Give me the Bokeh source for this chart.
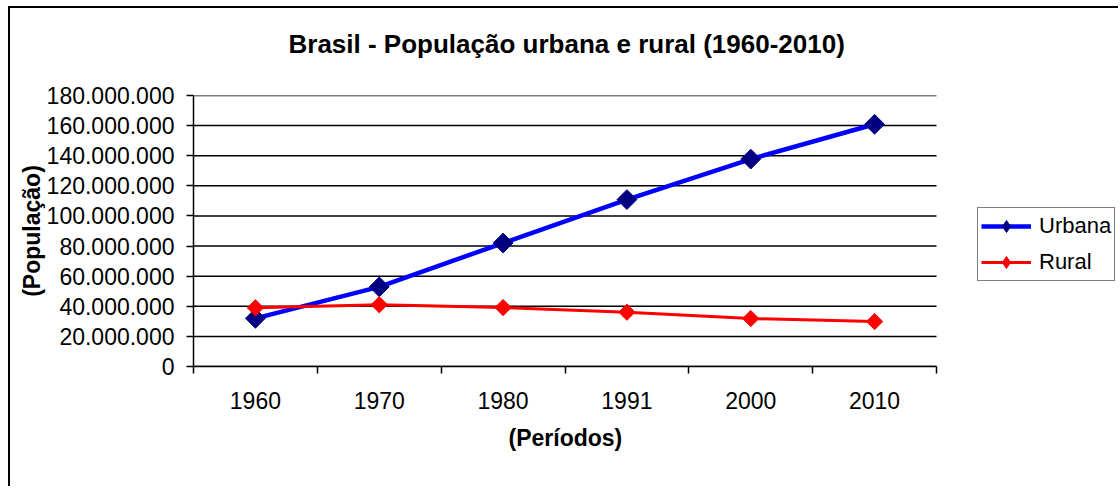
import numpy as np
from bokeh.plotting import figure
from bokeh.models import (Range1d, FixedTicker, CustomJSTickFormatter, Legend,
                          LegendItem, Title)
from bokeh.embed import file_html
from bokeh.resources import INLINE

# ---- data ----
periods = ["1960", "1970", "1980", "1991", "2000", "2010"]
urbana = [32004817, 52904744, 82013375, 110875826, 137755550, 160879708]
rural = [38987526, 41054053, 39137198, 36041633, 31835143, 29852986]
y_ticks = [0, 20000000, 40000000, 60000000, 80000000, 100000000,
           120000000, 140000000, 160000000, 180000000]
y_tick_labels = ["0", "20.000.000", "40.000.000", "60.000.000", "80.000.000",
                 "100.000.000", "120.000.000", "140.000.000", "160.000.000",
                 "180.000.000"]

FONT = "Liberation Sans"

n = len(periods)
x_pos = [i + 0.5 for i in range(n)]

# layout (pixels)
FIG_W, FIG_H = 1110, 480
LEFT, TOP = 183, 87
PLOT_W, PLOT_H = 743, 271          # visible plot area
FRAME_W = FIG_W - LEFT             # frame runs to the right edge (room for legend)
x_end = n * FRAME_W / PLOT_W

p = figure(width=FIG_W, height=FIG_H, output_backend="svg", toolbar_location=None,
           x_range=Range1d(0, x_end), y_range=Range1d(y_ticks[0], y_ticks[-1]),
           min_border_left=LEFT, min_border_top=TOP,
           min_border_bottom=FIG_H - TOP - PLOT_H, min_border_right=0)
p.styles = {"margin-left": "8px", "margin-top": "6px",
            "border-top": "2px solid black", "border-left": "2px solid black"}
p.outline_line_color = None
p.background_fill_color = "white"
p.border_fill_color = "white"

# title (trailing empty line lifts the visible line)
p.title.text = "Brasil - População urbana e rural (1960-2010)\n "
p.title.align = "left"
p.title.offset = 95
p.title.text_font = FONT
p.title.text_font_size = "26px"
p.title.text_font_style = "bold"
p.title.text_color = "black"
p.title.standoff = 13

# x axis
xa = p.xaxis[0]
xa.bounds = (0, n)
xa.ticker = FixedTicker(ticks=x_pos, minor_ticks=list(range(n + 1)))
xa.formatter = CustomJSTickFormatter(args=dict(cat_labels=periods),
                                     code="return cat_labels[Math.floor(tick)];")
xa.major_tick_line_color = None
xa.minor_tick_line_color = "black"
xa.minor_tick_in = 0
xa.minor_tick_out = 7
xa.minor_tick_line_width = 1.5
xa.axis_line_color = "black"
xa.axis_line_width = 1.5
xa.major_label_text_font = FONT
xa.major_label_text_font_size = "23px"
xa.major_label_text_color = "black"
xa.major_label_standoff = 18

# x axis title, centred under the plotted categories
xlab = Title(text="(Períodos)", align="left", offset=315,
             standoff=22, text_font=FONT, text_font_size="23px",
             text_font_style="bold", text_color="black")
p.add_layout(xlab, "below")

# y axis
ya = p.yaxis[0]
ya.ticker = FixedTicker(ticks=y_ticks)
ya.formatter = CustomJSTickFormatter(args=dict(yvals=y_ticks, ylabels=y_tick_labels),
                                     code="const i = yvals.indexOf(tick); return i >= 0 ? ylabels[i] : '';")
ya.major_tick_in = 0
ya.major_tick_out = 7
ya.major_tick_line_color = "black"
ya.major_tick_line_width = 1.5
ya.minor_tick_line_color = None
ya.axis_line_color = "black"
ya.axis_line_width = 1.5
ya.major_label_text_font = FONT
ya.major_label_text_font_size = "23px"
ya.major_label_text_color = "black"
ya.major_label_standoff = 12
ya.axis_label = "(População)"
ya.axis_label_text_font = FONT
ya.axis_label_text_font_size = "23px"
ya.axis_label_text_font_style = "bold"
ya.axis_label_text_color = "black"
ya.axis_label_standoff = -1

# horizontal gridlines only across the plotted categories
p.xgrid.grid_line_color = None
p.ygrid.grid_line_color = None
p.segment(x0=[0] * len(y_ticks), x1=[n] * len(y_ticks), y0=y_ticks, y1=y_ticks,
          line_color="black", line_width=1.5, level="underlay")

# series
ul = p.line(x_pos, urbana, line_color="#0000FF", line_width=4.5)
ul_leg = p.scatter(x_pos, urbana, marker="diamond", size=16,
                   fill_color="#000080", line_color="#000080")
us = p.scatter(x_pos, urbana, marker="square", angle=np.pi / 4, size=14,
               fill_color="#000080", line_color="#000080")
rl = p.line(x_pos, rural, line_color="#FF0000", line_width=3)
rl_leg = p.scatter(x_pos, rural, marker="diamond", size=14,
                   fill_color="#FF0000", line_color="#FF0000")
rs = p.scatter(x_pos, rural, marker="square", angle=np.pi / 4, size=11.5,
               fill_color="#FF0000", line_color="#FF0000")

legend = Legend(items=[LegendItem(label="Urbana", renderers=[ul, ul_leg]),
                       LegendItem(label="Rural", renderers=[rl, rl_leg])],
                location=(784, 85))
legend.label_text_font = FONT
legend.label_text_font_size = "22px"
legend.label_text_color = "black"
legend.glyph_width = 50
legend.glyph_height = 30
legend.label_height = 20
legend.label_standoff = 8
legend.spacing = 6
legend.padding = 3
legend.margin = 0
legend.border_line_color = "black"
legend.border_line_width = 1.5
legend.background_fill_alpha = 1
p.add_layout(legend, "center")

open("out.html", "w").write(file_html(p, INLINE))
